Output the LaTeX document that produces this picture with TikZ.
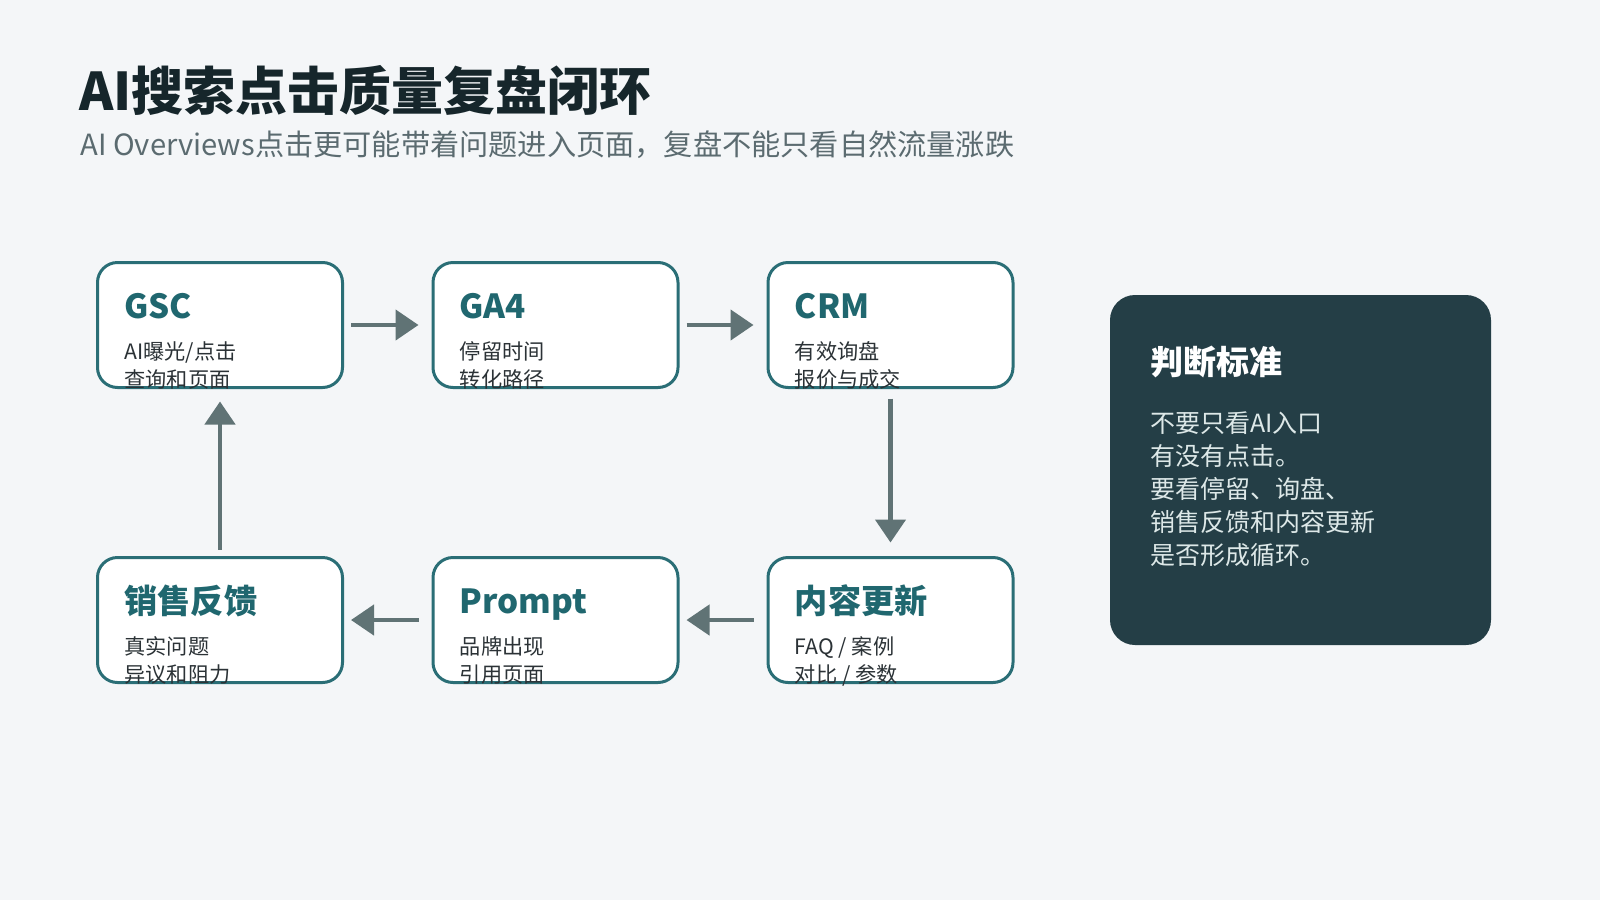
\documentclass[tikz,border=0pt]{standalone}
\usepackage{fontspec}
\setmainfont{Noto Sans CJK SC}
\usetikzlibrary{arrows.meta,calc}
\definecolor{bg}{HTML}{F4F6F8}
\definecolor{titlec}{HTML}{16262B}
\definecolor{subc}{HTML}{5B6B70}
\definecolor{boxline}{HTML}{2A6E76}
\definecolor{boxtitle}{HTML}{20676F}
\definecolor{boxtext}{HTML}{2B3236}
\definecolor{arrowc}{HTML}{607375}
\definecolor{panelc}{HTML}{243E46}
\definecolor{paneltext}{HTML}{DDE8E8}
\begin{document}
\begin{tikzpicture}[x=0.5pt,y=-0.5pt,
  stepbox/.style={draw=boxline,line width=1.5pt,fill=white,rounded corners=10pt,
    minimum width=122.5pt,minimum height=62.5pt,inner sep=0pt},
  btitle/.style={anchor=base west,inner sep=0pt,text=boxtitle,font=\bfseries\fontsize{16.6}{19}\selectfont},
  bline/.style={anchor=base west,inner sep=0pt,text=boxtext,font=\fontsize{10.6}{12}\selectfont},
  arr/.style={draw=arrowc,line width=2.25pt,-{Triangle[length=11.5pt,width=15pt]}},
  panel/.style={fill=panelc,rounded corners=12.5pt,minimum width=190.5pt,minimum height=175pt,inner sep=0pt},
  ptitle/.style={anchor=base west,inner sep=0pt,text=white,font=\bfseries\fontsize{16.5}{20}\selectfont},
  pline/.style={anchor=base west,inner sep=0pt,text=paneltext,font=\fontsize{12.5}{16}\selectfont}
]
\fill[bg] (0,0) rectangle (1600,900);
\useasboundingbox (0,0) rectangle (1600,900);

% heading
\node[anchor=base west,inner sep=0pt,text=titlec,font=\bfseries\fontsize{26}{30}\selectfont] (title) at (79,110) {AI搜索点击质量复盘闭环};
\node[anchor=base west,inner sep=0pt,text=subc,font=\fontsize{14.6}{18}\selectfont] (subtitle) at (80,155) {AI Overviews点击更可能带着问题进入页面，复盘不能只看自然流量涨跌};

% boxes
\node[stepbox] (gsc) at (220,325) {};
\node[stepbox] (ga4) at (555.5,325) {};
\node[stepbox] (crm) at (890.5,325) {};
\node[stepbox] (xs) at (220,620) {};
\node[stepbox] (pr) at (555.5,620) {};
\node[stepbox] (nr) at (890.5,620) {};

\node[btitle] (gsc-t) at ($(gsc.north west)+(28,57.5)$) {GSC};
\node[bline] (gsc-a) at ($(gsc.north west)+(28,98.5)$) {AI曝光/点击};
\node[bline] (gsc-b) at ($(gsc.north west)+(28,126.5)$) {查询和页面};

\node[btitle] (ga4-t) at ($(ga4.north west)+(28,57.5)$) {GA4};
\node[bline] (ga4-a) at ($(ga4.north west)+(28,98.5)$) {停留时间};
\node[bline] (ga4-b) at ($(ga4.north west)+(28,126.5)$) {转化路径};

\node[btitle] (crm-t) at ($(crm.north west)+(28,57.5)$) {CRM};
\node[bline] (crm-a) at ($(crm.north west)+(28,98.5)$) {有效询盘};
\node[bline] (crm-b) at ($(crm.north west)+(28,126.5)$) {报价与成交};

\node[btitle] (xs-t) at ($(xs.north west)+(28,57.5)$) {销售反馈};
\node[bline] (xs-a) at ($(xs.north west)+(28,98.5)$) {真实问题};
\node[bline] (xs-b) at ($(xs.north west)+(28,126.5)$) {异议和阻力};

\node[btitle] (pr-t) at ($(pr.north west)+(28,57.5)$) {Prompt};
\node[bline] (pr-a) at ($(pr.north west)+(28,98.5)$) {品牌出现};
\node[bline] (pr-b) at ($(pr.north west)+(28,126.5)$) {引用页面};

\node[btitle] (nr-t) at ($(nr.north west)+(28,57.5)$) {内容更新};
\node[bline] (nr-a) at ($(nr.north west)+(28,98.5)$) {FAQ / 案例};
\node[bline] (nr-b) at ($(nr.north west)+(28,126.5)$) {对比 / 参数};

% connectors
\draw[arr,shorten <=3.5pt,shorten >=6.5pt] (gsc.east) -- (ga4.west);
\draw[arr,shorten <=3.5pt,shorten >=6.5pt] (ga4.east) -- (crm.west);
\draw[arr,shorten <=4.75pt,shorten >=6.75pt] (crm.south) -- (nr.north);
\draw[arr,shorten <=6.5pt,shorten >=3.5pt] (nr.west) -- (pr.east);
\draw[arr,shorten <=6.5pt,shorten >=3.5pt] (pr.west) -- (xs.east);
\draw[arr,shorten <=3.25pt,shorten >=6.25pt] (xs.north) -- (gsc.south);

% criteria panel
\node[panel] (crit) at (1300.5,470) {};
\node[ptitle] (crit-t) at (1150,374) {判断标准};
\node[pline] (crit-1) at (1150,432) {不要只看AI入口};
\node[pline] (crit-2) at (1150,465) {有没有点击。};
\node[pline] (crit-3) at (1150,498) {要看停留、询盘、};
\node[pline] (crit-4) at (1150,531) {销售反馈和内容更新};
\node[pline] (crit-5) at (1150,564) {是否形成循环。};
\end{tikzpicture}
\end{document}
